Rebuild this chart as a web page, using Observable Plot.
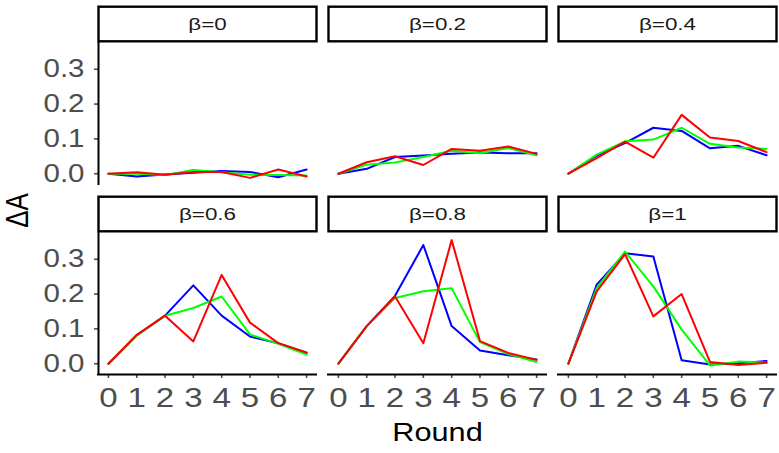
<!DOCTYPE html>
<html><head><meta charset="utf-8">
<script src="https://cdn.jsdelivr.net/npm/d3@7"></script>
<script src="https://cdn.jsdelivr.net/npm/@observablehq/plot@0.6"></script>
<style>body{margin:0;background:#fff;} svg{display:block;}</style>
</head><body><div id="chart"></div>
<script>
// ---- data ----
const rounds = [0, 1, 2, 3, 4, 5, 6, 7];
const betaLabels = ["β=0", "β=0.2", "β=0.4", "β=0.6", "β=0.8", "β=1"];
const seriesNames = ["series 1", "series 2", "series 3"];
const seriesColors = ["#0000FF", "#00FF00", "#FF0000"];
const yTicks = [0, 0.1, 0.2, 0.3];
// values per beta (rows) per round (columns)
const blueValues = [
  [0, -0.008, -0.002, 0.003, 0.008, 0.005, -0.010, 0.012],
  [0, 0.014, 0.048, 0.052, 0.057, 0.061, 0.059, 0.059],
  [0, 0.052, 0.088, 0.132, 0.123, 0.073, 0.080, 0.053],
  [0, 0.081, 0.138, 0.225, 0.138, 0.078, 0.059, 0.031],
  [0, 0.108, 0.195, 0.341, 0.108, 0.038, 0.024, 0.012],
  [0, 0.227, 0.317, 0.308, 0.010, -0.002, 0.001, 0.008]
];
const greenValues = [
  [0, 0.000, -0.004, 0.011, 0.004, -0.003, -0.004, -0.005],
  [0, 0.026, 0.032, 0.048, 0.066, 0.059, 0.074, 0.053],
  [0, 0.055, 0.093, 0.098, 0.132, 0.086, 0.075, 0.071],
  [0, 0.081, 0.138, 0.160, 0.193, 0.084, 0.057, 0.026],
  [0, 0.108, 0.189, 0.208, 0.217, 0.062, 0.028, 0.005],
  [0, 0.217, 0.322, 0.222, 0.098, -0.005, 0.006, 0.003]
];
const redValues = [
  [0, 0.004, -0.003, 0.005, 0.005, -0.012, 0.012, -0.008],
  [0, 0.033, 0.050, 0.025, 0.071, 0.066, 0.078, 0.057],
  [0, 0.045, 0.092, 0.046, 0.169, 0.104, 0.094, 0.062],
  [0, 0.083, 0.138, 0.064, 0.255, 0.118, 0.059, 0.032],
  [0, 0.108, 0.193, 0.059, 0.355, 0.065, 0.031, 0.011],
  [0, 0.208, 0.315, 0.136, 0.200, 0.005, -0.004, 0.003]
];

// ---- table built from the arrays ----
const allSeries = [blueValues, greenValues, redValues];
const data = [];
betaLabels.forEach((b, bi) => {
  allSeries.forEach((vals, si) => {
    rounds.forEach((r, ri) => {
      data.push({beta: b, col: bi % 3, row: Math.floor(bi / 3), series: seriesNames[si], round: r, value: vals[bi][ri]});
    });
  });
});
const strips = betaLabels.map((b, bi) => ({beta: b, col: bi % 3, row: Math.floor(bi / 3)}));
const leftPanels = [{col: 0, row: 0}, {col: 0, row: 1}];
const bottomPanels = [{col: 0, row: 1}, {col: 1, row: 1}, {col: 2, row: 1}];

const xDomain = [-0.35, 7.35];
const yDomain = [-0.031, 0.374];
const panelH = 142;

const chart = Plot.plot({
  width: 779, height: 453,
  marginLeft: 97, marginRight: 3, marginTop: 42, marginBottom: 78,
  style: {fontFamily: "'Liberation Sans', Arial, sans-serif", background: "#fff", overflow: "visible"},
  x: {domain: xDomain, label: null},
  y: {domain: yDomain, label: null},
  fx: {domain: [0, 1, 2], paddingInner: 0.0542, paddingOuter: 0, axis: null},
  fy: {domain: [0, 1], paddingInner: 0.2565, paddingOuter: 0, axis: null},
  color: {domain: seriesNames, range: seriesColors},
  marks: [
    // strips
    Plot.frame({stroke: "#000", strokeWidth: 2.4, fill: "#fff", insetTop: -36.8, insetBottom: panelH + 1.2}),
    Plot.text(strips, {fx: "col", fy: "row", text: "beta", frameAnchor: "top", lineAnchor: "middle", dy: -19, fontSize: 16, fill: "#1A1A1A", className: "strip-text"}),
    // axes
    Plot.axisY({ticks: yTicks, tickFormat: d3.format(".1f"), tickSize: 4, tickPadding: 10, fontSize: 25, color: "#4D4D4D", strokeWidth: 1.6, label: null}),
    Plot.axisX({ticks: rounds, tickFormat: d3.format("d"), tickSize: 4, tickPadding: 9, fontSize: 28, color: "#4D4D4D", strokeWidth: 1.6, label: null}),
    Plot.ruleX(leftPanels, {fx: "col", fy: "row", x: () => xDomain[0], stroke: "#000", strokeWidth: 2, strokeLinecap: "square"}),
    Plot.ruleY(bottomPanels, {fx: "col", fy: "row", y: () => yDomain[0], stroke: "#000", strokeWidth: 2, strokeLinecap: "square"}),
    // lines
    Plot.line(data, {fx: "col", fy: "row", x: "round", y: "value", z: "series", stroke: "series", strokeWidth: 2}),
    // axis titles
    Plot.text(["Round"], {fx: () => 1, fy: () => 1, text: d => d, frameAnchor: "bottom", lineAnchor: "middle", dy: 58, fontSize: 26, fill: "#000"}),
    Plot.text(["ΔA"], {fx: () => 0, fy: () => 0, text: d => d, frameAnchor: "bottom-left", dx: -80, dy: 26, rotate: -90, textAnchor: "middle", lineAnchor: "middle", fontSize: 26, fill: "#000"})
  ]
});
document.getElementById("chart").append(chart);

// the reference glyphs are horizontally wider than the font: stretch each text about its anchor
const stretch = 1.18, stripStretch = 1.4;
chart.querySelectorAll("text").forEach(t => {
  const s = t.closest(".strip-text") ? stripStretch : stretch;
  const tr = t.getAttribute("transform") || "";
  if (tr.includes("rotate")) {
    t.setAttribute("transform", `${tr} scale(1,${s})`);
  } else {
    const ax = parseFloat(t.getAttribute("x")) || 0;
    t.setAttribute("transform", `${tr} translate(${ax},0) scale(${s},1) translate(${-ax},0)`);
  }
});
</script>
</body></html>
